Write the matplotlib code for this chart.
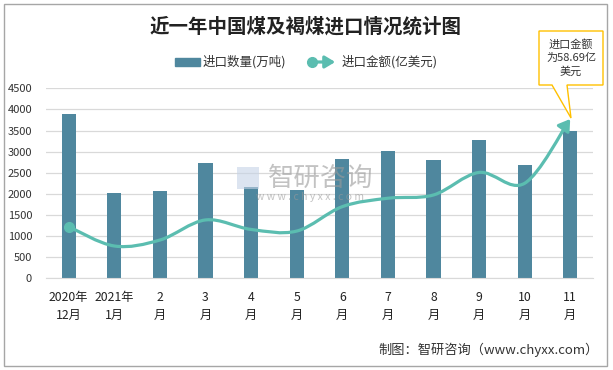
import matplotlib.pyplot as plt
import numpy as np
from matplotlib.lines import Line2D
from matplotlib.path import Path
from matplotlib.patches import FancyArrowPatch, Polygon, Rectangle

plt.rcParams['font.family'] = ['Noto Sans CJK SC', 'DejaVu Sans']

# ── Data ──────────────────────────────────────────────────────────────────────
months = ["2020年\n12月", "2021年\n1月", "2\n月", "3\n月", "4\n月", "5\n月",
          "6\n月", "7\n月", "8\n月", "9\n月", "10\n月", "11\n月"]
qty = [3890, 2020, 2070, 2735, 2170, 2100, 2830, 3020, 2805, 3280, 2690, 3500]   # 万吨
value = [19.0, 11.9, 14.1, 21.5, 18.0, 17.4, 26.4, 29.5, 30.7, 39.0, 35.0, 58.69]  # 亿美元

BAR_C = "#4F879E"
LINE_C = "#5BBDB0"
W, H = 613, 370


def px(x, y):
    return (x / W, 1 - y / H)


def smooth_path(xs, ys):
    # Catmull-Rom style bezier through the points (like Excel's smoothed line)
    pts = np.column_stack([xs, ys]).astype(float)
    n = len(pts)
    verts, codes = [pts[0]], [Path.MOVETO]
    for i in range(n - 1):
        p0 = pts[i - 1] if i > 0 else pts[i]
        p1, p2 = pts[i], pts[i + 1]
        p3 = pts[i + 2] if i + 2 < n else pts[i + 1]
        verts += [p1 + (p2 - p0) / 6, p2 - (p3 - p1) / 6, p2]
        codes += [Path.CURVE4] * 3
    return Path(verts, codes)


fig = plt.figure(figsize=(W / 100, H / 100), dpi=100)
ax = fig.add_axes([46 / W, 1 - 278.3 / H, (593 - 46) / W, (278.3 - 88.3) / H])

x = np.arange(len(months))
ax.bar(x, qty, width=0.31, color=BAR_C, zorder=2)
ax.set_xlim(-0.5, len(months) - 0.5)
ax.set_ylim(0, 4500)
ax.set_yticks(range(0, 4501, 500))
ax.grid(axis="y", color="#D9D9D9", lw=0.9, zorder=0)
for s in ["top", "left", "right"]:
    ax.spines[s].set_visible(False)
ax.spines["bottom"].set_color("#D9D9D9")
ax.set_xticks(x)
ax.set_xticklabels(months, fontsize=8.8, linespacing=1.5, color="#222222")
ax.tick_params(axis="x", length=0, pad=9)
ax.tick_params(axis="y", length=0, pad=10, labelsize=8, labelcolor="#333333")

# secondary (hidden) axis for import value
ax2 = ax.twinx()
ax2.set_ylim(0, 70)
ax2.axis("off")
path = smooth_path(x, value)
arrow = FancyArrowPatch(path=path, arrowstyle="-|>,head_length=0.55,head_width=0.35",
                        mutation_scale=12, lw=2.3, color=LINE_C,
                        transform=ax2.transData, zorder=3)
ax2.add_patch(arrow)
ax2.plot(x[0], value[0], "o", ms=7, color=LINE_C, zorder=4)

# title
fig.text(*px(306, 27), "近一年中国煤及褐煤进口情况统计图", ha="center", va="center",
         fontsize=14, fontweight="bold", color="#222222")

# legend
fig.add_artist(Rectangle(px(175, 66), 25 / W, 8 / H, transform=fig.transFigure,
                         color=BAR_C))
fig.text(*px(203, 62), "进口数量(万吨)", ha="left", va="center", fontsize=9, color="#333333")
fig.add_artist(FancyArrowPatch(px(310, 62), px(338, 62), transform=fig.transFigure,
                               arrowstyle="-|>,head_length=0.5,head_width=0.3",
                               mutation_scale=12, lw=2.3, color=LINE_C))
fig.add_artist(Line2D([312 / W], [1 - 62 / H], marker="o", ms=7, color=LINE_C,
                      transform=fig.transFigure))
fig.text(*px(342, 62), "进口金额(亿美元)", ha="left", va="center", fontsize=9, color="#333333")

# callout
callout = [(539, 31), (603, 31), (603, 85), (567, 85), (571, 118), (552, 85), (539, 85)]
fig.add_artist(Polygon([px(a, b) for a, b in callout], closed=True,
                       transform=fig.transFigure, fc="white", ec="#FFC000", lw=1, zorder=5))
fig.text(*px(571, 58), "进口金额\n为58.69亿\n美元", ha="center", va="center",
         fontsize=8, linespacing=1.4, color="#333333", zorder=6)

# watermark
fig.text(*px(321, 178), "智研咨询", ha="center", va="center", fontsize=19,
         color="#9A9A9A", alpha=0.6, zorder=10)
fig.text(*px(310, 197), "w w w . c h y x x . c o m", ha="center", va="center",
         fontsize=7.5, color="#9A9A9A", alpha=0.6, zorder=10)
fig.add_artist(Rectangle(px(237, 189), 22 / W, 22 / H, transform=fig.transFigure,
                         fc="#C5D3E6", alpha=0.6, zorder=10))

# footer
fig.text(*px(599, 350), "制图：智研咨询（www.chyxx.com）", ha="right", va="center",
         fontsize=9.5, color="#333333")

# outer border
fig.add_artist(Rectangle(px(4, 366), 603 / W, 362 / H, transform=fig.transFigure,
                         fill=False, ec="#A6A6A6", lw=1))

fig.savefig("out.png", dpi=100)
